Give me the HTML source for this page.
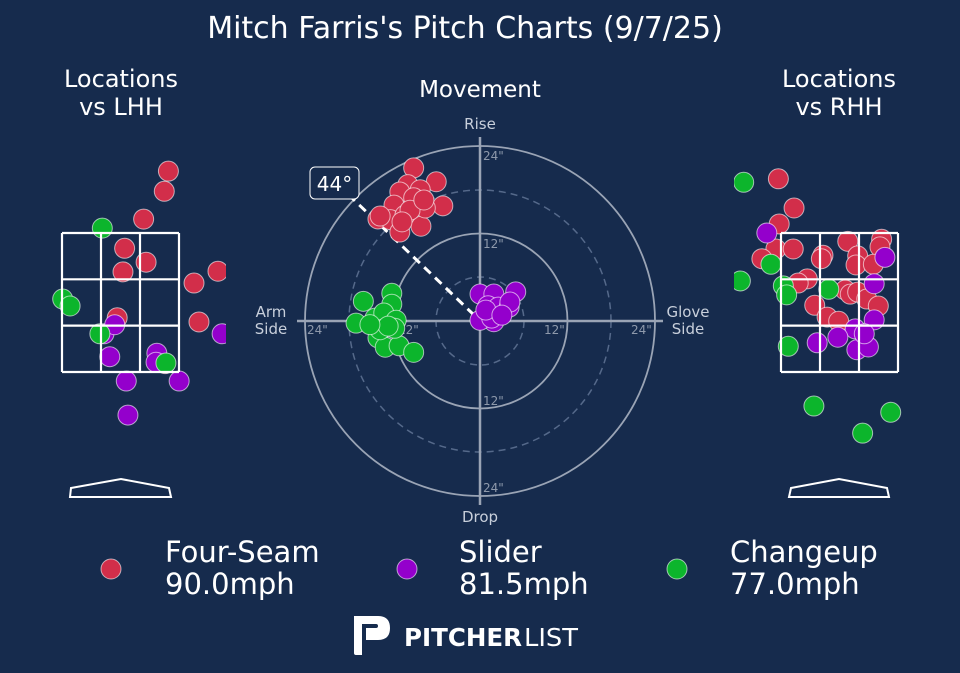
<!DOCTYPE html>
<html><head><meta charset="utf-8"><style>
html,body{margin:0;padding:0;background:#162b4d;}
svg{display:block;font-family:"DejaVu Sans","Liberation Sans",sans-serif;}
</style></head><body>
<svg id="chart" width="960" height="673" viewBox="0 0 960 673" xmlns="http://www.w3.org/2000/svg">
<defs>
<clipPath id="clipL"><rect x="0" y="130" width="226" height="330"/></clipPath>
<clipPath id="clipR"><rect x="734" y="130" width="226" height="330"/></clipPath>
</defs>
<rect width="960" height="673" fill="#162b4d"/>
<text x="465" y="38" text-anchor="middle" font-size="30" fill="#fff">Mitch Farris's Pitch Charts (9/7/25)</text>
<text x="121" y="87" text-anchor="middle" font-size="24" fill="#fff">Locations</text>
<text x="121" y="115" text-anchor="middle" font-size="24" fill="#fff">vs LHH</text>
<text x="839" y="87" text-anchor="middle" font-size="24" fill="#fff">Locations</text>
<text x="839" y="115" text-anchor="middle" font-size="24" fill="#fff">vs RHH</text>
<text x="480" y="97" text-anchor="middle" font-size="23" fill="#fff">Movement</text>

<g id="mov">
<circle cx="480" cy="321" r="175" fill="none" stroke="#9aa4b5" stroke-width="1.8"/>
<circle cx="480" cy="321" r="131" fill="none" stroke="#55698a" stroke-width="1.5" stroke-dasharray="7,5"/>
<circle cx="480" cy="321" r="87.5" fill="none" stroke="#9aa4b5" stroke-width="1.8"/>
<circle cx="480" cy="321" r="44" fill="none" stroke="#55698a" stroke-width="1.5" stroke-dasharray="7,5"/>
<line x1="297" y1="321" x2="663" y2="321" stroke="#9aa4b5" stroke-width="2.5"/>
<line x1="480" y1="137" x2="480" y2="505" stroke="#9aa4b5" stroke-width="2.5"/>
<g font-size="12" fill="#8e99ab">
<text x="483" y="160">24"</text><text x="483" y="248">12"</text><text x="483" y="405">12"</text><text x="483" y="492">24"</text>
<text x="307" y="334">24"</text><text x="398" y="334">12"</text><text x="544" y="334">12"</text><text x="631" y="334">24"</text>
</g>
<text x="480" y="129" text-anchor="middle" font-size="15" fill="#c8cfdb">Rise</text>
<text x="480" y="522" text-anchor="middle" font-size="15" fill="#c8cfdb">Drop</text>
<text x="271" y="317" text-anchor="middle" font-size="15" fill="#c8cfdb">Arm</text>
<text x="271" y="334" text-anchor="middle" font-size="15" fill="#c8cfdb">Side</text>
<text x="688" y="317" text-anchor="middle" font-size="15" fill="#c8cfdb">Glove</text>
<text x="688" y="334" text-anchor="middle" font-size="15" fill="#c8cfdb">Side</text>
<line x1="474" y1="315" x2="352" y2="198" stroke="#fff" stroke-width="3" stroke-dasharray="9,6"/>
</g>
<g id="movPts"></g>
<rect x="310" y="167" width="49" height="32" rx="5" fill="#162b4d" stroke="#fff" stroke-width="1"/>
<text x="334.5" y="191" text-anchor="middle" font-size="20" fill="#fff">44°</text>

<g clip-path="url(#clipL)" id="locL"></g>
<g clip-path="url(#clipR)" id="locR"></g>
<g id="zones"></g>
<polygon points="71,488 121,479 169,488 171,497 70,497" fill="none" stroke="#fff" stroke-width="2"/>
<polygon points="791,488 839,479 887,488 889,497 789,497" fill="none" stroke="#fff" stroke-width="2"/>

<g>
<circle cx="111" cy="569" r="10" fill="#d22e4a" stroke="#fff" stroke-opacity="0.6"/>
<text x="165" y="562" font-size="29" fill="#fff">Four-Seam</text>
<text x="165" y="594" font-size="29" fill="#fff">90.0mph</text>
<circle cx="407" cy="569" r="10" fill="#9400cc" stroke="#fff" stroke-opacity="0.6"/>
<text x="459" y="562" font-size="29" fill="#fff">Slider</text>
<text x="459" y="594" font-size="29" fill="#fff">81.5mph</text>
<circle cx="677" cy="569" r="10" fill="#0cb52c" stroke="#fff" stroke-opacity="0.6"/>
<text x="730" y="562" font-size="29" fill="#fff">Changeup</text>
<text x="730" y="594" font-size="29" fill="#fff">77.0mph</text>
</g>

<g>
<path d="M354 616 L378 616 Q390 616 390 628 Q390 640 378 640 L366 640 L366 628 L376 628 Q378 628 378 626 Q378 624 376 624 L362 624 L362 655 L356 655 Q354 655 354 653 Z" fill="#fff"/>
<text x="404" y="646" font-size="25" fill="#fff" font-weight="bold" textLength="118" lengthAdjust="spacingAndGlyphs">PITCHER</text>
<text x="524" y="646" font-size="25" fill="#fff" textLength="54" lengthAdjust="spacingAndGlyphs">LIST</text>
</g>
</svg>
<script>
const NS="http://www.w3.org/2000/svg";
const pitchTypes=["four-seam","slider","changeup"];
const pitchColors=["#d22e4a","#9400cc","#0cb52c"];
// movement (inches): horizontal break (glove side +), induced vertical break
const fsHB=[-9.1,-6.0,-9.9,-8.2,-11.0,-11.8,-5.1,-14.0,-12.3,-11.0,-8.1,-10.3,-9.1,-7.5,-9.6,-10.7,-13.7,-7.7];
const fsVB=[21.0,19.1,18.7,18.0,17.7,15.9,15.8,14.0,13.9,12.2,13.0,14.5,16.9,15.5,15.2,13.6,14.4,16.6];
const slHB=[0,1.9,4.9,1.1,2.5,4.0,4.1,1.9,0,1.6,0.8,3.0];
const slVB=[3.7,3.7,4.0,2.1,1.9,1.9,2.6,-0.1,0.1,0.4,1.5,0.8];
const chHB=[-16.0,-12.1,-12.1,-17.0,-14.4,-13.2,-11.5,-14.0,-13.0,-11.1,-9.1,-13.7,-11.7,-12.6,-15.1];
const chVB=[2.7,3.8,2.3,-0.3,0.4,1.1,0.1,-2.3,-3.6,-3.4,-4.3,-1.2,-1.0,-0.7,-0.5];
// locations vs LHH (feet)
const lFsX=[0.58,0.53,0.28,0.05,0.31,0.03,0.89,1.18,0.95,-0.04,0.54];
const lFsZ=[4.39,4.10,3.70,3.28,3.08,2.94,2.78,2.95,2.22,2.28,1.62];
const lSlX=[-0.20,-0.07,-0.13,0.44,0.43,0.07,0.71,0.09,1.23];
const lSlZ=[2.05,2.18,1.72,1.77,1.64,1.37,1.37,0.88,2.05];
const lChX=[-0.22,-0.70,-0.61,-0.25,0.55];
const lChZ=[3.57,2.55,2.45,2.05,1.63];
// locations vs RHH (feet)
const rFsX=[-0.74,-0.55,-0.73,-0.77,-0.56,-0.94,-0.20,-0.22,0.10,0.51,0.49,0.22,0.20,0.41,-0.39,-0.50,-0.30,-0.15,-0.01,0.07,0.13,0.22,0.33,0.47];
const rFsZ=[4.28,3.86,3.63,3.27,3.27,3.13,3.18,3.13,3.38,3.41,3.30,3.17,3.04,3.05,2.84,2.78,2.46,2.29,2.23,2.68,2.62,2.65,2.55,2.45];
const rSlX=[-0.88,0.55,0.42,0.42,0.19,-0.02,-0.27,0.21,0.35,0.30];
const rSlZ=[3.50,3.15,2.77,2.25,2.12,2.00,1.92,1.82,1.86,2.05];
const rChX=[-1.16,-0.83,-1.20,-0.68,-0.64,-0.13,-0.62,-0.31,0.62,0.28];
const rChZ=[4.23,3.05,2.81,2.74,2.61,2.69,1.87,1.01,0.92,0.62];

const movX=v=>480+v*7.29, movY=v=>321-v*7.29;
function dot(g,cx,cy,col,name){
  const c=document.createElementNS(NS,"circle");
  c.setAttribute("cx",cx);c.setAttribute("cy",cy);c.setAttribute("r",10);
  c.setAttribute("fill",col);c.setAttribute("stroke","#fff");c.setAttribute("stroke-opacity","0.6");c.setAttribute("stroke-width","1");
  
  
  g.appendChild(c);
}
const mg=document.getElementById("movPts");
[[fsHB,fsVB],[slHB,slVB],[chHB,chVB]].forEach((s,k)=>{
  s[0].forEach((h,i)=>dot(mg,movX(h),movY(s[1][i]),pitchColors[k],pitchTypes[k]+"-movement-point"));
});
function locPanel(id,cx,sets,side){
  const g=document.getElementById(id);
  const sx=v=>cx+v*82.6, sz=v=>372-(v-1.5)*69.5;
  sets.forEach((s,k)=>s[0].forEach((x,i)=>dot(g,sx(x),sz(s[1][i]),pitchColors[k],pitchTypes[k]+"-location-"+side)));
}
locPanel("locL",120.5,[[lFsX,lFsZ],[lSlX,lSlZ],[lChX,lChZ]],"lhh");
locPanel("locR",839.5,[[rFsX,rFsZ],[rSlX,rSlZ],[rChX,rChZ]],"rhh");
const zg=document.getElementById("zones");
[[62,"lhh"],[781,"rhh"]].forEach(([x0,n])=>{
  const r=document.createElementNS(NS,"g");
  
  
  let d="";
  for(let i=0;i<4;i++){const x=x0+i*39;d+=`M${x} 233V372`;}
  for(let j=0;j<4;j++){const y=233+j*46.33;d+=`M${x0} ${y}H${x0+117}`;}
  const p=document.createElementNS(NS,"path");
  p.setAttribute("d",d);p.setAttribute("stroke","#fff");p.setAttribute("stroke-width","2.2");p.setAttribute("fill","none");
  r.appendChild(p);zg.appendChild(r);
});
</script>
</body></html>
